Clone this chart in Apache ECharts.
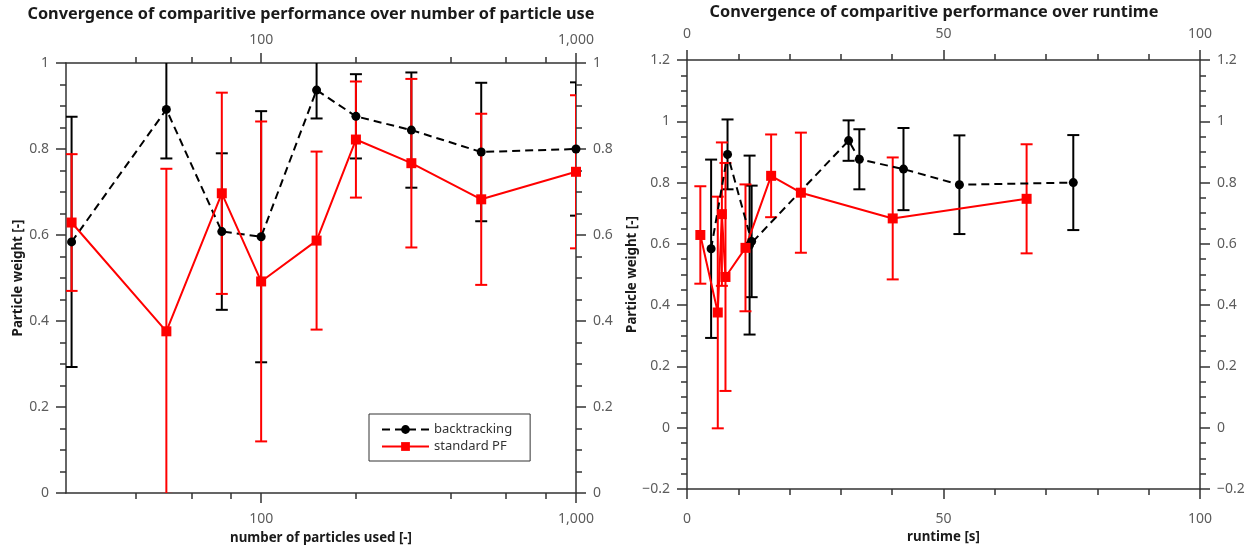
<!DOCTYPE html>
<html>
<head>
<meta charset="utf-8">
<script src="https://cdn.jsdelivr.net/npm/echarts@6/dist/echarts.min.js"></script>
<style>
  html, body { margin: 0; padding: 0; background: #ffffff; }
  #chart { width: 1250px; height: 550px; }
</style>
</head>
<body>
<div id="chart"></div>
<script>
// Particle counts used in each run
const particles = [25, 50, 75, 100, 150, 200, 300, 500, 1000];

// Backtracking filter: mean particle weight and half-width of its error bar
const btMean = [0.584, 0.892, 0.608, 0.596, 0.937, 0.876, 0.844, 0.793, 0.800];
const btErr  = [0.291, 0.114, 0.182, 0.292, 0.066, 0.098, 0.134, 0.161, 0.155];
// Backtracking filter: runtime in seconds
const btRuntime = [4.7, 7.9, 12.6, 12.2, 31.5, 33.6, 42.2, 53.1, 75.3];

// Standard particle filter: mean particle weight and half-width of its error bar
const pfMean = [0.629, 0.376, 0.697, 0.492, 0.587, 0.822, 0.767, 0.683, 0.747];
const pfErr  = [0.159, 0.378, 0.234, 0.372, 0.207, 0.135, 0.196, 0.199, 0.178];
// Standard particle filter: runtime in seconds
const pfRuntime = [2.6, 6.0, 6.8, 7.5, 11.4, 16.4, 22.2, 40.1, 66.2];

// Tick positions on the logarithmic particle axis
const logMajorTicks = [100, 1000];
const logMinorTicks = [40, 60, 80, 200, 400, 600, 800];

const seriesNames = ['backtracking', 'standard PF'];
const titles = [
  'Convergence of comparitive performance over number of particle use',
  'Convergence of comparitive performance over runtime'
];

const FONT = '"Noto Sans", "Open Sans", sans-serif';
const AXIS_COLOR = '#333333';
const LABEL_COLOR = '#5c5c5c';
const BLACK = '#000000';
const RED = '#ff0000';

const chart = echarts.init(document.getElementById('chart'), null, { renderer: 'canvas' });

const lineStyleAxis = { show: true, onZero: false, lineStyle: { color: AXIS_COLOR, width: 1.5 } };
const labelBase = { color: LABEL_COLOR, fontFamily: FONT, fontSize: 14 };
const nameStyle = { color: '#1a1a1a', fontFamily: FONT, fontSize: 13.3, fontWeight: 'bold' };

function fmtNum(v) {
  return String(v).replace('-', '\u2212');
}

// Log-scaled particle-count axis; one copy for major ticks + labels, one for minor ticks
function logAxis(position, major, extra) {
  return Object.assign({
    type: 'log',
    logBase: 10,
    gridIndex: 0,
    position: position,
    min: 24,
    max: 1000,
    axisLine: major ? lineStyleAxis : { show: false, onZero: false },
    axisTick: {
      show: true,
      customValues: major ? logMajorTicks : logMinorTicks,
      length: major ? 10 : 6,
      lineStyle: { color: AXIS_COLOR, width: 1.5 }
    },
    axisLabel: major ? Object.assign({
      show: true,
      customValues: logMajorTicks,
      margin: position === 'bottom' ? 19 : 16,
      formatter: v => Number(v).toLocaleString('en-US')
    }, labelBase) : { show: false },
    splitLine: { show: false },
    minorTick: { show: false },
    minorSplitLine: { show: false }
  }, extra || {});
}

function valueAxis(gridIndex, position, min, max, interval, minorSplit, margin, extra) {
  return Object.assign({
    type: 'value',
    gridIndex: gridIndex,
    position: position,
    min: min,
    max: max,
    interval: interval,
    axisLine: lineStyleAxis,
    axisTick: { show: true, length: 10, lineStyle: { color: AXIS_COLOR, width: 1.5 } },
    minorTick: { show: true, splitNumber: minorSplit, length: 6, lineStyle: { color: AXIS_COLOR, width: 1.5 } },
    axisLabel: Object.assign({ show: true, margin: margin, formatter: fmtNum }, labelBase),
    splitLine: { show: false },
    minorSplitLine: { show: false }
  }, extra || {});
}

function errorBarSeries(xs, means, errs, color, xAxisIndex, yAxisIndex) {
  const data = xs.map((x, i) => [x, means[i] - errs[i], means[i] + errs[i]]);
  return {
    type: 'custom',
    xAxisIndex: xAxisIndex,
    yAxisIndex: yAxisIndex,
    clip: true,
    silent: true,
    encode: { x: 0, y: [1, 2] },
    data: data,
    z: 2,
    renderItem: function (params, api) {
      const x = api.value(0);
      const lo = api.coord([x, api.value(1)]);
      const hi = api.coord([x, api.value(2)]);
      const hw = 6;
      const style = { stroke: color, lineWidth: 2 };
      return {
        type: 'group',
        children: [
          { type: 'line', shape: { x1: hi[0], y1: hi[1], x2: lo[0], y2: lo[1] }, style: style },
          { type: 'line', shape: { x1: hi[0] - hw, y1: hi[1], x2: hi[0] + hw, y2: hi[1] }, style: style },
          { type: 'line', shape: { x1: lo[0] - hw, y1: lo[1], x2: lo[0] + hw, y2: lo[1] }, style: style }
        ]
      };
    }
  };
}

function lineSeries(name, xs, means, color, dashed, symbol, xAxisIndex, yAxisIndex) {
  return {
    type: 'line',
    name: name,
    xAxisIndex: xAxisIndex,
    yAxisIndex: yAxisIndex,
    data: xs.map((x, i) => [x, means[i]]),
    symbol: symbol,
    symbolSize: symbol === 'rect' ? 10 : 9,
    showAllSymbol: true,
    clip: true,
    animation: false,
    lineStyle: { color: color, width: 2, type: dashed ? [8, 5] : 'solid' },
    itemStyle: { color: color, borderWidth: 0 },
    emphasis: { disabled: true },
    z: 3
  };
}

const option = {
  animation: false,
  backgroundColor: '#ffffff',
  textStyle: { fontFamily: FONT },
  grid: [
    { left: 66, top: 63, width: 510, height: 430, outerBoundsMode: 'none', containLabel: false },
    { left: 687, top: 60, width: 513, height: 429, outerBoundsMode: 'none', containLabel: false }
  ],
  xAxis: [
    logAxis('bottom', true, {
      name: 'number of particles used [-]',
      nameLocation: 'middle',
      nameGap: 39,
      nameTextStyle: nameStyle
    }),
    logAxis('bottom', false),
    logAxis('top', true),
    logAxis('top', false),
    valueAxis(1, 'bottom', 0, 100, 50, 5, 23, {
      name: 'runtime [s]',
      nameLocation: 'middle',
      nameGap: 42,
      nameTextStyle: nameStyle
    }),
    valueAxis(1, 'top', 0, 100, 50, 5, 19)
  ],
  yAxis: [
    valueAxis(0, 'left', 0, 1, 0.2, 4, 17, {
      name: 'Particle weight [-]',
      nameLocation: 'middle',
      nameGap: 41,
      nameTextStyle: nameStyle
    }),
    valueAxis(0, 'right', 0, 1, 0.2, 4, 17),
    valueAxis(1, 'left', -0.2, 1.2, 0.2, 4, 17, {
      name: 'Particle weight [-]',
      nameLocation: 'middle',
      nameGap: 46,
      nameTextStyle: nameStyle
    }),
    valueAxis(1, 'right', -0.2, 1.2, 0.2, 4, 17)
  ],
  legend: {
    show: true,
    orient: 'vertical',
    left: 369,
    top: 414,
    data: seriesNames,
    itemWidth: 47,
    itemHeight: 11,
    itemGap: 4,
    padding: [9, 18, 8, 12],
    borderColor: '#333333',
    borderWidth: 1,
    backgroundColor: '#ffffff',
    selectedMode: false,
    textStyle: { color: '#333333', fontFamily: FONT, fontSize: 13 }
  },
  graphic: [
    {
      type: 'text', x: 311, y: 14,
      style: { text: titles[0], fill: '#1a1a1a', font: 'bold 16.3px ' + FONT, textAlign: 'center', textVerticalAlign: 'middle' }
    },
    {
      type: 'text', x: 934, y: 12,
      style: { text: titles[1], fill: '#1a1a1a', font: 'bold 16.3px ' + FONT, textAlign: 'center', textVerticalAlign: 'middle' }
    }
  ],
  series: [
    errorBarSeries(particles, btMean, btErr, BLACK, 0, 0),
    errorBarSeries(particles, pfMean, pfErr, RED, 0, 0),
    lineSeries(seriesNames[0], particles, btMean, BLACK, true, 'circle', 0, 0),
    lineSeries(seriesNames[1], particles, pfMean, RED, false, 'rect', 0, 0),
    errorBarSeries(btRuntime, btMean, btErr, BLACK, 4, 2),
    errorBarSeries(pfRuntime, pfMean, pfErr, RED, 4, 2),
    lineSeries(seriesNames[0], btRuntime, btMean, BLACK, true, 'circle', 4, 2),
    lineSeries(seriesNames[1], pfRuntime, pfMean, RED, false, 'rect', 4, 2)
  ]
};

chart.setOption(option);
</script>
</body>
</html>
